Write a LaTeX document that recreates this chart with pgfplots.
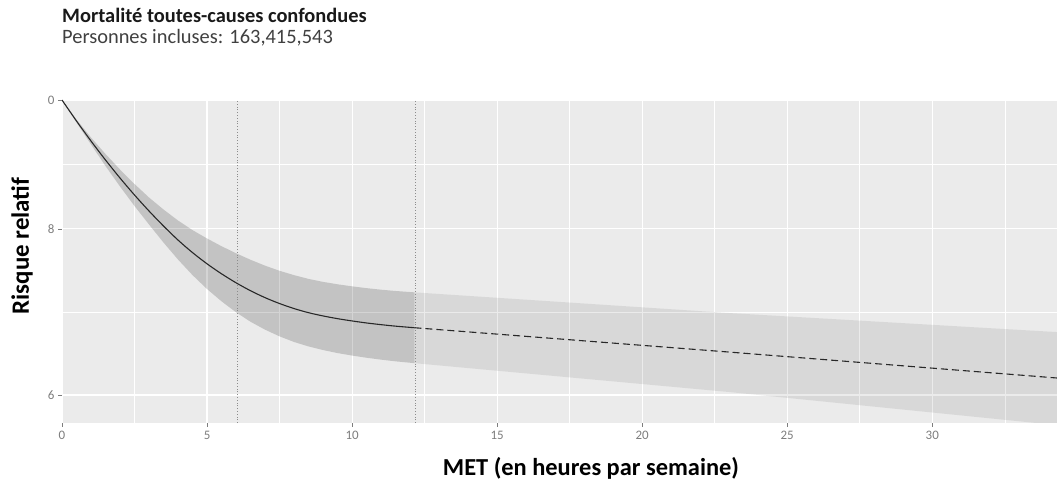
\documentclass[border=0pt]{standalone}
\usepackage{fontspec}
\setmainfont{Carlito}
\usepackage{pgfplots}
\usepackage{pgfplotstable}
\pgfplotsset{compat=1.18}
\definecolor{panel}{RGB}{235,235,235}
\definecolor{ticktxt}{RGB}{125,125,125}
\definecolor{curve}{RGB}{40,40,40}
\definecolor{vline}{RGB}{140,140,140}

% curve (relative risk)
\pgfplotstableread{
x     mid
0     1.0
0.5   0.96428
1     0.93145
1.5   0.90130
2     0.87363
2.5   0.84828
3     0.82510
3.5   0.80394
4     0.78468
4.5   0.76787
5     0.75312
5.5   0.74019
6     0.72874
6.5   0.71871
7     0.71018
7.5   0.70296
8     0.69689
8.5   0.69196
9     0.68802
9.5   0.68481
10    0.68209
10.5  0.67973
11    0.67773
11.5  0.67597
12.15 0.67410
}\solidcurve

\pgfplotstableread{
x     mid
12.15 0.67410
23    0.64630
34.3  0.61790
}\dashcurve

% dark confidence band: upper bound forward, lower bound backward
\pgfplotstableread{
x     y
0     1.0
0.5   0.96679
1     0.93711
1.5   0.91071
2     0.88659
2.5   0.86460
3     0.84462
3.5   0.82725
4     0.81163
4.5   0.79839
5     0.78686
5.5   0.77643
6     0.76694
6.5   0.75836
7     0.75065
7.5   0.74405
8     0.73840
8.5   0.73368
9     0.72988
9.5   0.72685
10    0.72421
10.5  0.72196
11    0.72008
11.5  0.71846
12.15 0.71672
12.15 0.63401
11.5  0.63599
11    0.63787
10.5  0.63997
10    0.64241
9.5   0.64520
9     0.64856
8.5   0.65262
8     0.65772
7.5   0.66413
7     0.67189
6.5   0.68114
6     0.69244
5.5   0.70564
5     0.72083
4.5   0.73853
4     0.75862
3.5   0.78129
3     0.80603
2.5   0.83227
2     0.86086
1.5   0.89198
1     0.92582
0.5   0.96178
0     1.0
}\darkband

% light confidence band
\pgfplotstableread{
x     y
12.15 0.71672
23    0.69150
34.3  0.66910
34.3  0.56950
23    0.60310
12.15 0.63401
}\lightband

\begin{document}
\begin{tikzpicture}[x=1bp,y=1bp]
\path[use as bounding box] (0,0) rectangle (1057,490);
\begin{axis}[
  at={(62bp,67bp)}, anchor=south west,
  width=995bp, height=323bp, scale only axis,
  xmin=0, xmax=34.3,
  ymode=log, ymin=0.5716, ymax=1,
  axis background/.style={fill=panel},
  axis line style={draw=none},
  xtick={0,5,...,30}, minor xtick={2.5,7.5,...,32.5},
  ytick={0.6,0.8,1}, yticklabels={6,8,0}, minor ytick={0.6928,0.8944},
  grid=both,
  major grid style={white, line width=1.1bp},
  minor grid style={white, line width=0.55bp},
  tick pos=left, tick align=outside,
  major tick length=4bp, minor tick length=0bp,
  tick style={ticktxt, line width=0.6bp},
  /pgf/number format/assume math mode=true,
  xticklabel style={font=\fontsize{13}{14}\selectfont, text=ticktxt, yshift=-1bp},
  yticklabel style={font=\fontsize{13}{14}\selectfont, text=ticktxt},
  clip=true,
]
\addplot[fill=black, fill opacity=0.17, draw=none] table[x=x, y=y] {\darkband} -- cycle;
\addplot[fill=black, fill opacity=0.08, draw=none] table[x=x, y=y] {\lightband} -- cycle;
\addplot[vline, dotted, line width=0.8bp] coordinates {(6.03,0.5716) (6.03,1)};
\addplot[vline, dotted, line width=0.8bp] coordinates {(12.17,0.5716) (12.17,1)};
\addplot[curve, line width=1.1bp, smooth] table[x=x, y=mid] {\solidcurve};
\addplot[curve, line width=1.1bp, dash pattern=on 7bp off 4bp] table[x=x, y=mid] {\dashcurve};
\end{axis}
\node[anchor=base west, inner sep=0pt, font=\fontsize{20.5}{24}\selectfont\bfseries, text=black!90] at (62,467) {Mortalité toutes-causes confondues};
\node[anchor=base west, inner sep=0pt, font=\fontsize{20.5}{24}\selectfont, text=black!75] at (62,446) {Personnes incluses: 163,415,543};
\node[rotate=90, inner sep=0pt, font=\fontsize{25}{28}\selectfont\bfseries] at (22,244) {Risque relatif};
\node[anchor=base, inner sep=0pt, font=\fontsize{24.5}{28}\selectfont\bfseries] at (591,14) {MET (en heures par semaine)};
\end{tikzpicture}
\end{document}
